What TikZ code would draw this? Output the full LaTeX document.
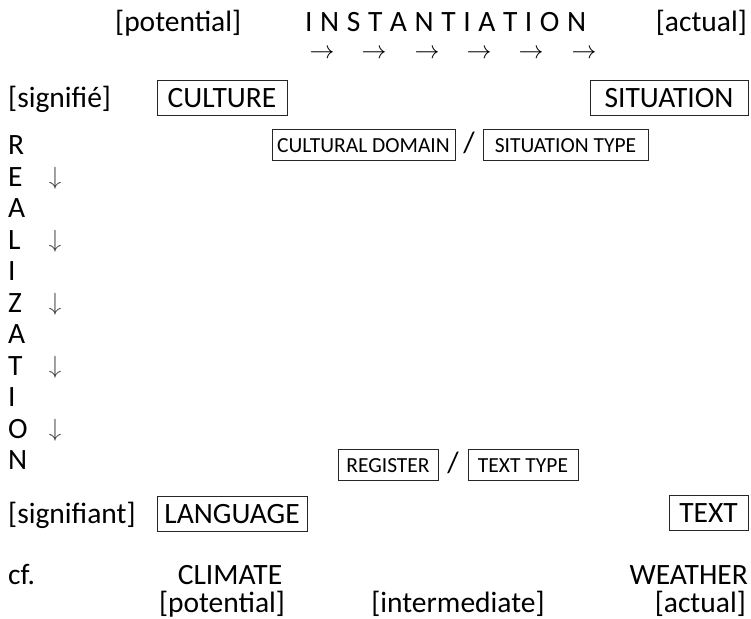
\documentclass[tikz,border=0pt]{standalone}
\usepackage{fontspec}
\setmainfont{Carlito}
\begin{document}
\begin{tikzpicture}[x=1pt,y=-1pt,
  big/.style={font=\fontsize{29.5}{35}\selectfont, inner sep=0pt},
  small/.style={font=\fontsize{21.5}{26}\selectfont, inner sep=0pt},
  bigbox/.style={big, draw=black!85, line width=0.7pt, text height=19pt, text depth=0pt, minimum height=35pt},
  smallbox/.style={small, draw=black!85, line width=0.7pt, text height=14pt, text depth=0pt, minimum height=31pt},
  arr/.style={font=\fontsize{31}{36}\selectfont, inner sep=0pt},
  darr/.style={font=\fontsize{28}{32}\selectfont, inner sep=0pt, text=black!75}
]
\useasboundingbox (0,0) rectangle (751,618);
% top row
\node[big, anchor=base west] (pot) at (115,32) {[potential]};
\node[big, anchor=base west] (inst) at (305,32) {I\hspace{7.6pt}N\hspace{7.6pt}S\hspace{7.6pt}T\hspace{7.6pt}A\hspace{7.6pt}N\hspace{7.6pt}T\hspace{7.6pt}I\hspace{7.6pt}A\hspace{7.6pt}T\hspace{7.6pt}I\hspace{7.6pt}O\hspace{7.6pt}N};
\node[big, anchor=base east] (act) at (747,32) {[actual]};
\foreach \i/\x in {1/322,2/374,3/427,4/479,5/531,6/584}
  \node[arr] (ra\i) at (\x,54) {$\rightarrow$};
% culture row
\node[big, anchor=base west] (signifie) at (8,107) {[signifié]};
\node[bigbox, minimum width=130pt] (culture) at (222,98) {CULTURE};
\node[bigbox, minimum width=158pt] (situation) at (669,98) {SITUATION};
% realization column
\foreach \l [count=\k from 0] in {R,E,A,L,I,Z,A,T,I,O,N}
  \node[big, anchor=base west] (rl\k) at (8,{145+31.5*\k+9.5}) {\l};
\foreach \k in {1,3,5,7,9}
  \node[darr] (da\k) at (55,{147+31.5*\k}) {$\downarrow$};
% intermediate boxes
\node[smallbox, minimum width=183pt] (cdom) at (363.5,145) {CULTURAL DOMAIN};
\node[big] (sl1) at (469,143) {/};
\node[smallbox, minimum width=165pt] (stype) at (565.5,145) {SITUATION TYPE};
\node[smallbox, minimum width=100pt] (reg) at (388,465) {REGISTER};
\node[big] (sl2) at (453,463) {/};
\node[smallbox, minimum width=110pt] (ttype) at (523,465) {TEXT TYPE};
% language row
\node[big, anchor=base west] (signifiant) at (8,523) {[signifiant]};
\node[bigbox, minimum width=150pt] (language) at (232,514) {LANGUAGE};
\node[bigbox, minimum width=79pt] (text) at (708.5,513) {TEXT};
% cf row
\node[big, anchor=base west] (cf) at (8,584) {cf.};
\node[big, anchor=base] (climate) at (230,584) {CLIMATE};
\node[big, anchor=base east] (weather) at (748,584) {WEATHER};
\node[big, anchor=base] (pot2) at (222,612) {[potential]};
\node[big, anchor=base] (inter) at (458,612) {[intermediate]};
\node[big, anchor=base east] (act2) at (746,612) {[actual]};
\end{tikzpicture}
\end{document}
